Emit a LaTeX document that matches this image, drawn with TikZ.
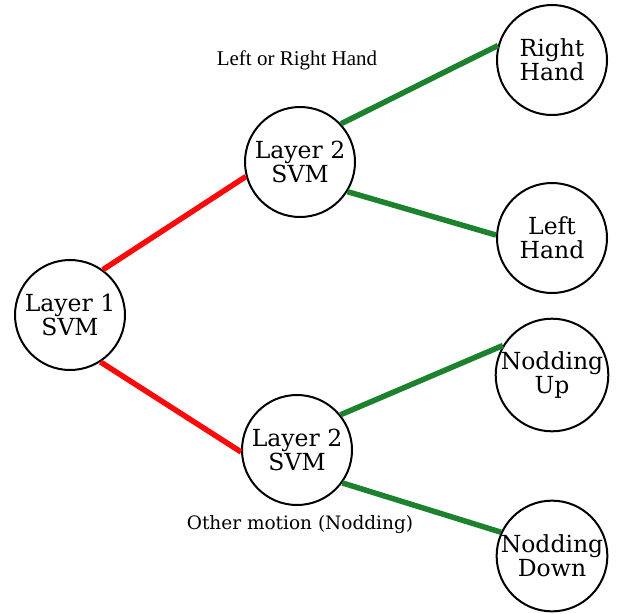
\documentclass[tikz,border=0pt]{standalone}
\usepackage{fontspec}
\setmainfont{DejaVu Serif}
\newfontfamily\timesfont{Liberation Serif}
\usepackage{tikz}
\usetikzlibrary{positioning,calc}
\definecolor{myred}{RGB}{250,10,10}
\definecolor{mygreen}{RGB}{28,130,45}

\begin{document}
\begin{tikzpicture}[x=1pt,y=-1pt,
    every node/.style={align=center,font=\fontsize{23.5}{25}\selectfont},
    svmnode/.style={draw,circle,line width=2pt,minimum size=110pt,inner sep=0pt},
    leafnode/.style={svmnode},
    redline/.style={myred,line width=5.5pt},
    greenline/.style={mygreen,line width=5.5pt}
  ]
  \useasboundingbox (0,0) rectangle (617,613);

  % the first layer
  \node[svmnode] (l1) at (70,315) {Layer 1\\[-1pt]SVM};

  % the second layer
  \node[svmnode] (l2a) at (300,162) {Layer 2\\[-1pt]SVM};
  \node[svmnode] (l2b) at (297,450) {Layer 2\\[-1pt]SVM};

  % the leaves
  \foreach \n/\y/\t in {rh/60/Right\\[-1pt]Hand, lh/238/Left\\[-1pt]Hand,
                        nu/375/Nodding\\[-1pt]Up, nd/556/Nodding\\[-1pt]Down}
    \node[leafnode] (\n) at (552,\y) {\t};

  % the labels
  \node[font=\timesfont\fontsize{21}{23}\selectfont] (lab1) at (297,60) {Left or Right Hand};
  \node[font=\fontsize{18.5}{20}\selectfont] (lab2) at (300,525) {Other motion (Nodding)};

  % the edges
  \draw[redline] (l1.54) -- (l2a.195);
  \draw[redline] (l1.-57) -- (l2b.182);
  \draw[greenline] (l2a.43) -- (rh.165);
  \draw[greenline] (l2a.-32) -- (lh.177);
  \draw[greenline] (l2b.39) -- (nu.149);
  \draw[greenline] (l2b.-36) -- (nd.155);
\end{tikzpicture}
\end{document}
